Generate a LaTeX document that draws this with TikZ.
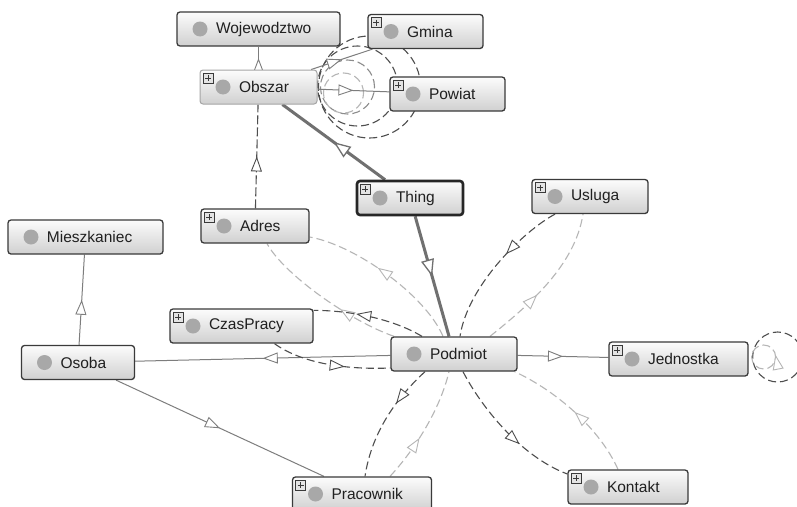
\documentclass[tikz,border=0pt]{standalone}
\usepackage{fontspec}
\setmainfont{Liberation Sans}
\usepackage{tikz}
\usetikzlibrary{arrows.meta, decorations.markings, backgrounds}
\definecolor{frame}{RGB}{58,58,58}
\definecolor{softframe}{RGB}{165,165,165}
\definecolor{isagray}{RGB}{125,125,125}
\definecolor{thickgray}{RGB}{112,112,112}
\definecolor{darkdash}{RGB}{78,78,78}
\definecolor{lightdash}{RGB}{182,182,182}
\definecolor{dot}{RGB}{168,168,168}
\definecolor{boxtop}{RGB}{252,252,252}
\definecolor{boxbot}{RGB}{208,208,208}
\definecolor{plusfill}{RGB}{228,228,228}
\definecolor{txt}{RGB}{32,32,32}

\begin{document}
\begin{tikzpicture}[
  x=1pt, y=-1pt,
  cls/.style={draw=frame, line width=1.3pt, rounded corners=3pt,
              top color=boxtop, bottom color=boxbot,
              minimum height=34pt, text width=#1, inner xsep=0pt,
              align=left, font=\fontsize{15.5}{18}\selectfont, text=txt,
              execute at begin node={\hspace*{39pt}},
              path picture={\fill[dot] ([xshift=23pt]path picture bounding box.west) circle (7.5pt);}},
  clsx/.style={cls=#1,
              path picture={\fill[dot] ([xshift=23pt]path picture bounding box.west) circle (7.5pt);
                \draw[frame, line width=0.6pt, fill=plusfill, sharp corners]
                  ([shift={(3pt,-3pt)}]path picture bounding box.north west) rectangle ++(10pt,-10pt);
                \draw[frame, line width=0.9pt, sharp corners]
                  ([shift={(8pt,-5pt)}]path picture bounding box.north west) -- ++(0pt,-6pt)
                  ([shift={(5pt,-8pt)}]path picture bounding box.north west) -- ++(6pt,0pt);}},
  midarr/.style={postaction={decorate, decoration={markings,
              mark=at position #1 with {\arrow[solid, line width=0.9pt]{Triangle[length=15pt, width=11pt, fill=white]}}}}},
  midarr/.default=0.5,
  bigarr/.style={postaction={decorate, decoration={markings,
              mark=at position #1 with {\arrow[solid, line width=1.3pt]{Triangle[length=17pt, width=13pt, fill=white]}}}}},
  bigarr/.default=0.5,
  isa/.style={draw=isagray, line width=1pt},
  isathick/.style={draw=thickgray, line width=3pt},
  objdark/.style={draw=darkdash, line width=1.1pt, dash pattern=on 8pt off 4pt},
  objlight/.style={draw=lightdash, line width=1.1pt, dash pattern=on 8pt off 4pt},
]
  \useasboundingbox (0,0) rectangle (797,506);

  % Area classes
  \node[cls=163] (woj) at (258.5,29) {Wojewodztwo};
  \node[clsx=115] (gmina) at (425.5,31.5) {Gmina};
  \node[clsx=117, draw=softframe, line width=1pt] (obszar) at (258.5,87) {Obszar};
  \node[clsx=115] (powiat) at (447.5,94) {Powiat};
  \node[clsx=106, draw=black!85, line width=2.6pt] (thing) at (410,198) {Thing};

  % Subject classes
  \node[clsx=116] (usluga) at (590,196.5) {Usluga};
  \node[clsx=108] (adres) at (255,226) {Adres};
  \node[cls=155] (mieszk) at (85.5,237) {Mieszkaniec};
  \node[clsx=143] (czas) at (241.5,326) {CzasPracy};
  \node[cls=113] (osoba) at (78,362.5) {Osoba};
  \node[cls=126] (podmiot) at (454,354) {Podmiot};
  \node[clsx=139] (jednostka) at (678.5,359) {Jednostka};
  \node[clsx=139] (pracownik) at (362,494) {Pracownik};
  \node[clsx=120] (kontakt) at (628,487) {Kontakt};

  \begin{scope}[on background layer]
    \fill[white] (0,0) rectangle (797,506);

    % Loops
    \draw[objdark] ([xshift=52pt]obszar.east) circle (51pt);
    \draw[objdark] ([xshift=40pt, yshift=1pt]obszar.east) circle (40pt);
    \draw[objdark, draw=black!45] ([xshift=30pt]obszar.east) circle (27pt);
    \draw[objlight] ([xshift=26pt, yshift=-6pt]obszar.east) circle (20pt);
    \draw[objdark] ([xshift=29pt, yshift=2pt]jednostka.east) circle (25pt);
    \draw[objlight, midarr=0.03] ([xshift=15pt, yshift=2pt]jednostka.east) circle (12pt);

    % Subclass links
    \draw[isa, midarr] (obszar) -- (woj);
    \draw[isa, midarr] (obszar) -- (gmina);
    \draw[isa, midarr] (obszar) -- (powiat);
    \draw[isathick, bigarr] (thing) -- (obszar);
    \draw[isathick, bigarr] (thing) -- (podmiot);
    \draw[isa, midarr] (osoba) -- (mieszk);
    \draw[isa, midarr] (podmiot) -- (osoba);
    \draw[isa, midarr] (osoba) -- (pracownik);
    \draw[isa, midarr] (podmiot) -- (jednostka);

    % Property links
    \draw[objdark, dash pattern=on 9pt off 3pt, midarr] (adres) -- (obszar);
    \draw[objlight, midarr=0.56] ([xshift=-11pt]podmiot.north)
      .. controls +(-18,-42) and +(45,8) .. ([yshift=-11pt]adres.east);
    \draw[objlight, midarr=0.38] ([xshift=-60pt]podmiot.north)
      .. controls +(-43,-15) and +(18,32) .. ([xshift=12pt]adres.south);
    \draw[objdark, midarr=0.62] ([xshift=-32pt]podmiot.north)
      .. controls +(-30,-18) and +(35,0) .. ([yshift=-2pt]czas.north east);
    \draw[objdark, midarr=0.62] ([xshift=33pt]czas.south)
      .. controls +(25,18) and +(-50,2) .. ([yshift=-14pt]podmiot.west);
    \draw[objdark, midarr=0.4] ([xshift=-35pt]usluga.south)
      .. controls +(-30,16) and +(8,-52) .. ([xshift=6pt]podmiot.north);
    \draw[objlight, midarr=0.4] ([xshift=36pt]podmiot.north)
      .. controls +(40,-32) and +(-8,51) .. ([xshift=-7pt]usluga.south);
    \draw[objdark, midarr=0.35] ([xshift=-29pt]podmiot.south)
      .. controls +(-25,23) and +(7,-47) .. ([xshift=3pt]pracownik.north);
    \draw[objlight, midarr=0.4] ([xshift=28pt]pracownik.north)
      .. controls +(25,-27) and +(-9,38) .. ([xshift=-5pt]podmiot.south);
    \draw[objdark, midarr=0.62] ([xshift=9pt]podmiot.south)
      .. controls +(17,33) and +(-48,-18) .. ([yshift=13pt]kontakt.west);
    \draw[objlight, midarr=0.5] ([xshift=-10pt]kontakt.north)
      .. controls +(-18,-40) and +(43,20) .. ([xshift=-3pt]podmiot.south east);
  \end{scope}
\end{tikzpicture}
\end{document}
